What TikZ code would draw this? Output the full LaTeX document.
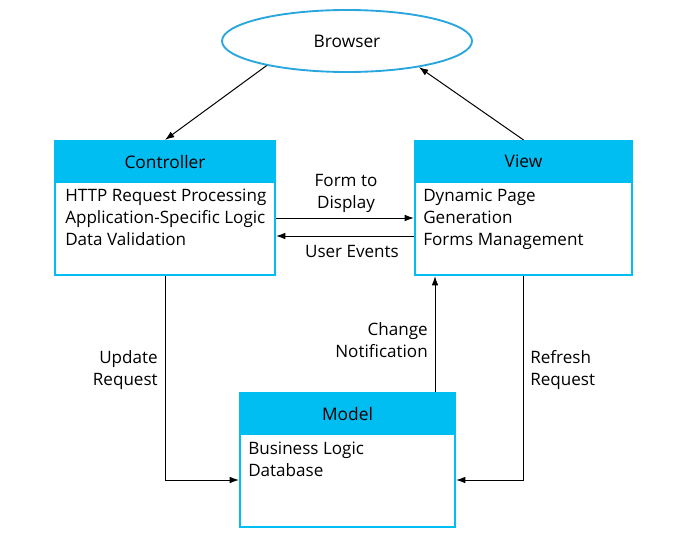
\documentclass[tikz,border=0pt]{standalone}
\usepackage{fontspec}
\setmainfont{Open Sans}
\usetikzlibrary{arrows.meta,shapes.geometric,calc}
\definecolor{mvccyan}{HTML}{00BDF2}
\definecolor{mvcblue}{HTML}{2AA6DF}
\begin{document}
\begin{tikzpicture}[x=0.75pt,y=-0.75pt,
  txt/.style={font=\fontsize{12.8}{16.5}\selectfont},
  boxbody/.style={draw=mvccyan,line width=1.6pt,minimum width=#1*0.75pt,minimum height=134*0.75pt,inner sep=0pt},
  boxhead/.style={fill=mvccyan,draw=mvccyan,line width=1.6pt,minimum width=#1*0.75pt,minimum height=41*0.75pt,inner sep=0pt,font=\fontsize{13}{15}\selectfont},
  conn/.style={line width=0.75pt,-{Latex[length=7pt,width=5pt]}},
  lbl/.style={txt,align=center,inner sep=0pt}
]
\useasboundingbox (0,0) rectangle (681,542);
% Browser
\node[ellipse,draw=mvcblue,line width=1.4pt,minimum width=250*0.75pt,minimum height=62*0.75pt,font=\fontsize{13}{15}\selectfont] (browser) at (347,41) {Browser};
% Controller
\node[boxbody=220] (ctrl) at (165,208) {};
\node[boxhead=220,anchor=north] (ctrlh) at (ctrl.north) {Controller};
\node[txt,anchor=north west,align=left,inner sep=0pt] (ctrlt) at (65,189) {HTTP Request Processing\\Application-Specific Logic\\Data Validation};
% View
\node[boxbody=217] (view) at (523.5,208) {};
\node[boxhead=217,anchor=north] (viewh) at (view.north) {View};
\node[txt,anchor=north west,align=left,inner sep=0pt] (viewt) at (423,189) {Dynamic Page\\Generation\\Forms Management};
% Model
\node[boxbody=215] (model) at (347.5,460) {};
\node[boxhead=215,anchor=north] (modelh) at (model.north) {Model};
\node[txt,anchor=north west,align=left,inner sep=0pt] (modelt) at (248,442) {Business Logic\\Database};
% connectors
\draw[conn] (browser.197) -- (ctrl.north);
\draw[conn] (view.north) -- (browser.340);
\draw[conn] ([yshift=-10*0.75pt]ctrl.east) -- ([yshift=-10*0.75pt]ctrl.east -| view.west);
\draw[conn] ([yshift=-28*0.75pt]view.west) -- ([yshift=-28*0.75pt]view.west -| ctrl.east);
\draw[conn] (ctrl.south) |- ([yshift=-20*0.75pt]model.west);
\draw[conn] (view.south) |- ([yshift=-20*0.75pt]model.east);
\coordinate (cn) at ([xshift=87.5*0.75pt]model.north);
\draw[conn] (cn) -- (cn |- view.south);
% labels
\node[lbl] (l1) at (346,193) {Form to\\Display};
\node[lbl] (l2) at (352,251) {User Events};
\node[lbl,align=right,anchor=east] (l3) at (158,370) {Update\\Request};
\node[lbl,align=right,anchor=east] (l4) at (428,340) {Change\\Notification};
\node[lbl,align=left,anchor=west] (l5) at (530,370) {Refresh\\Request};
\end{tikzpicture}
\end{document}
